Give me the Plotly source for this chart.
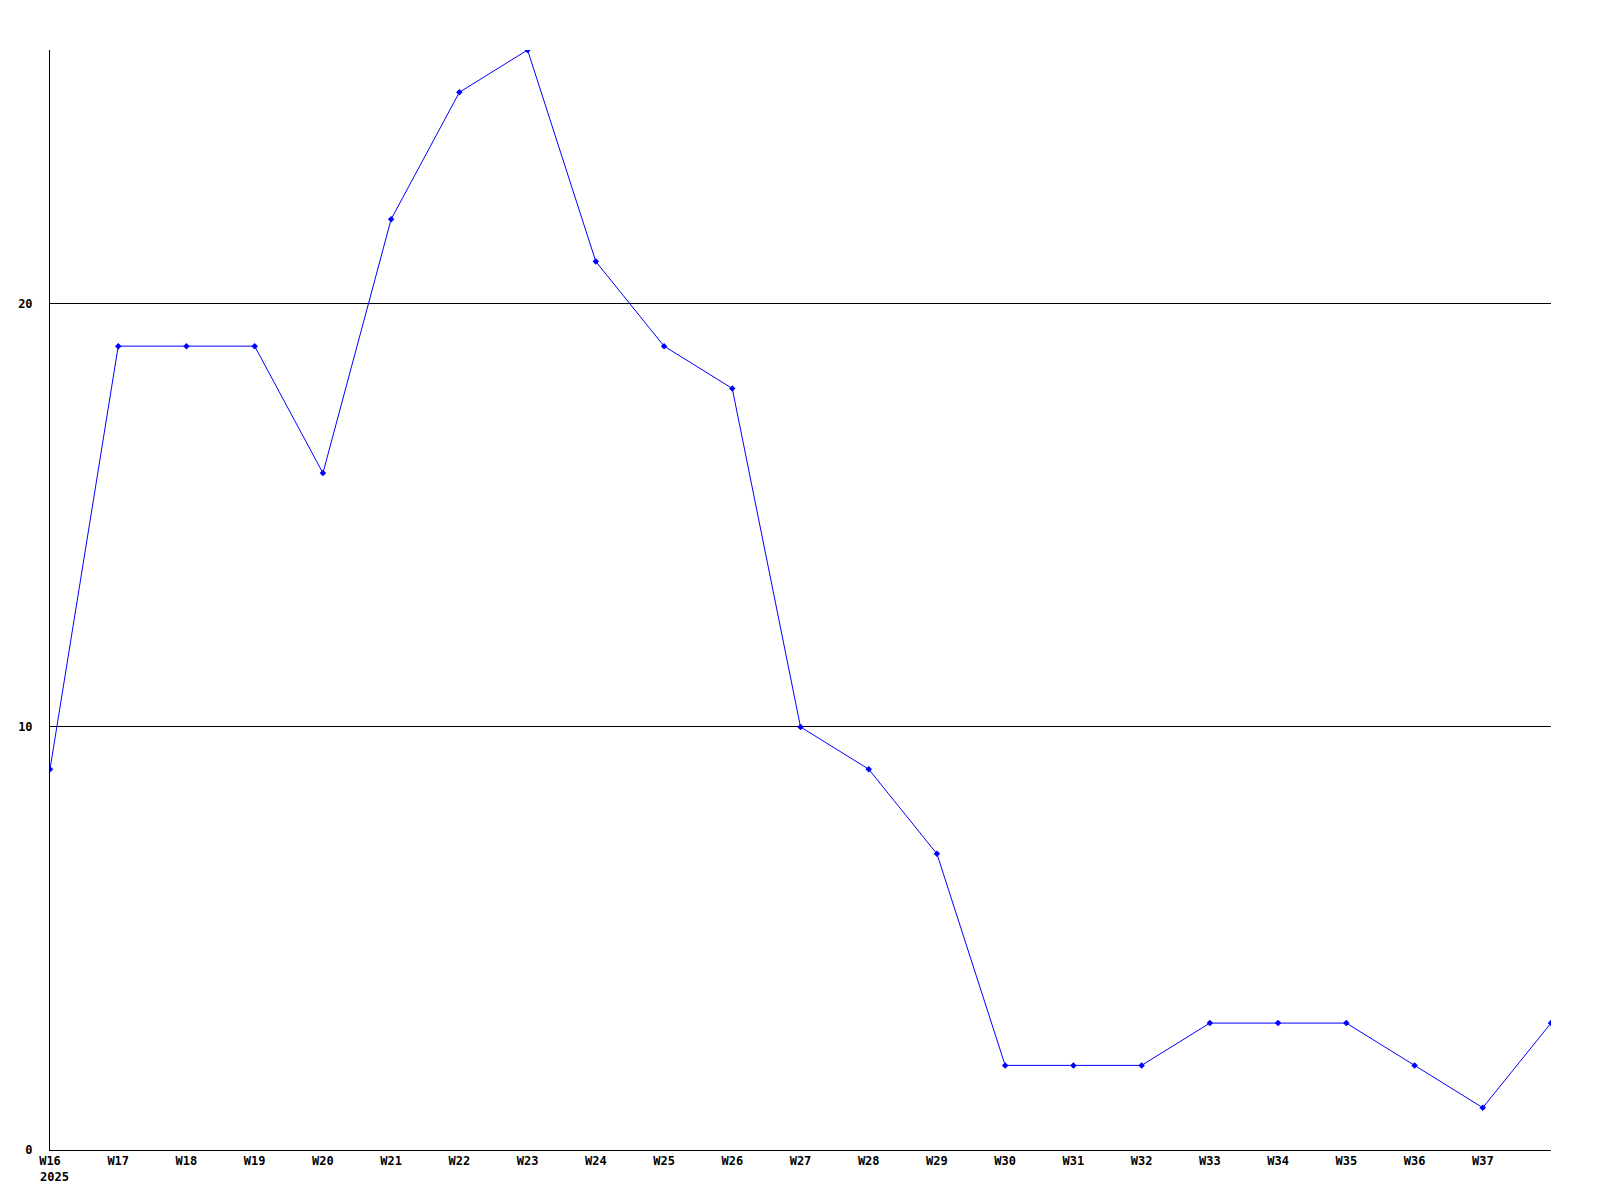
import plotly.graph_objects as go

weeks = ["W16", "W17", "W18", "W19", "W20", "W21", "W22", "W23", "W24", "W25", "W26",
         "W27", "W28", "W29", "W30", "W31", "W32", "W33", "W34", "W35", "W36", "W37", "W38"]
values = [9, 19, 19, 19, 16, 22, 25, 26, 21, 19, 18, 10, 9, 7, 2, 2, 2, 3, 3, 3, 2, 1, 3]
tick_labels = weeks[:22]
year_label = "2025"
y_ticks = [0, 10, 20]

x = list(range(len(values)))

fig = go.Figure()
fig.add_trace(go.Scatter(
    x=x, y=values, mode="lines+markers",
    line=dict(color="#0000ff", width=1),
    marker=dict(color="#0000ff", size=5, symbol="diamond"),
    cliponaxis=True, hoverinfo="skip",
))

font = dict(family="DejaVu Sans Mono", size=12, color="black")
fig.update_layout(
    width=1600, height=1200,
    margin=dict(l=42, r=57, t=42, b=58),
    paper_bgcolor="white", plot_bgcolor="white",
    showlegend=False,
    font=font,
    xaxis=dict(
        range=[0, len(values) - 1],
        tickvals=x[:22], ticktext=["<b>%s</b>" % t for t in tick_labels],
        showgrid=False, zeroline=False,
        showline=True, linecolor="black", linewidth=1,
        ticks="", ticklen=0, tickfont=font, automargin=False,
        ticklabelstandoff=0,
    ),
    yaxis=dict(
        range=[0, 26],
        tickvals=y_ticks, ticktext=["<b>%d</b>" % v for v in y_ticks],
        showgrid=True, gridcolor="black", gridwidth=1,
        zeroline=False,
        showline=True, linecolor="black", linewidth=1,
        ticks="", ticklen=0, tickfont=font, automargin=False,
        ticklabelstandoff=14,
    ),
    annotations=[dict(
        x=x[0], xref="x", y=0, yref="paper",
        text="<b>%s</b>" % year_label, showarrow=False,
        xanchor="left", yanchor="top", xshift=-12, yshift=-18,
        font=font,
    )],
)

fig.write_html("out.html")
